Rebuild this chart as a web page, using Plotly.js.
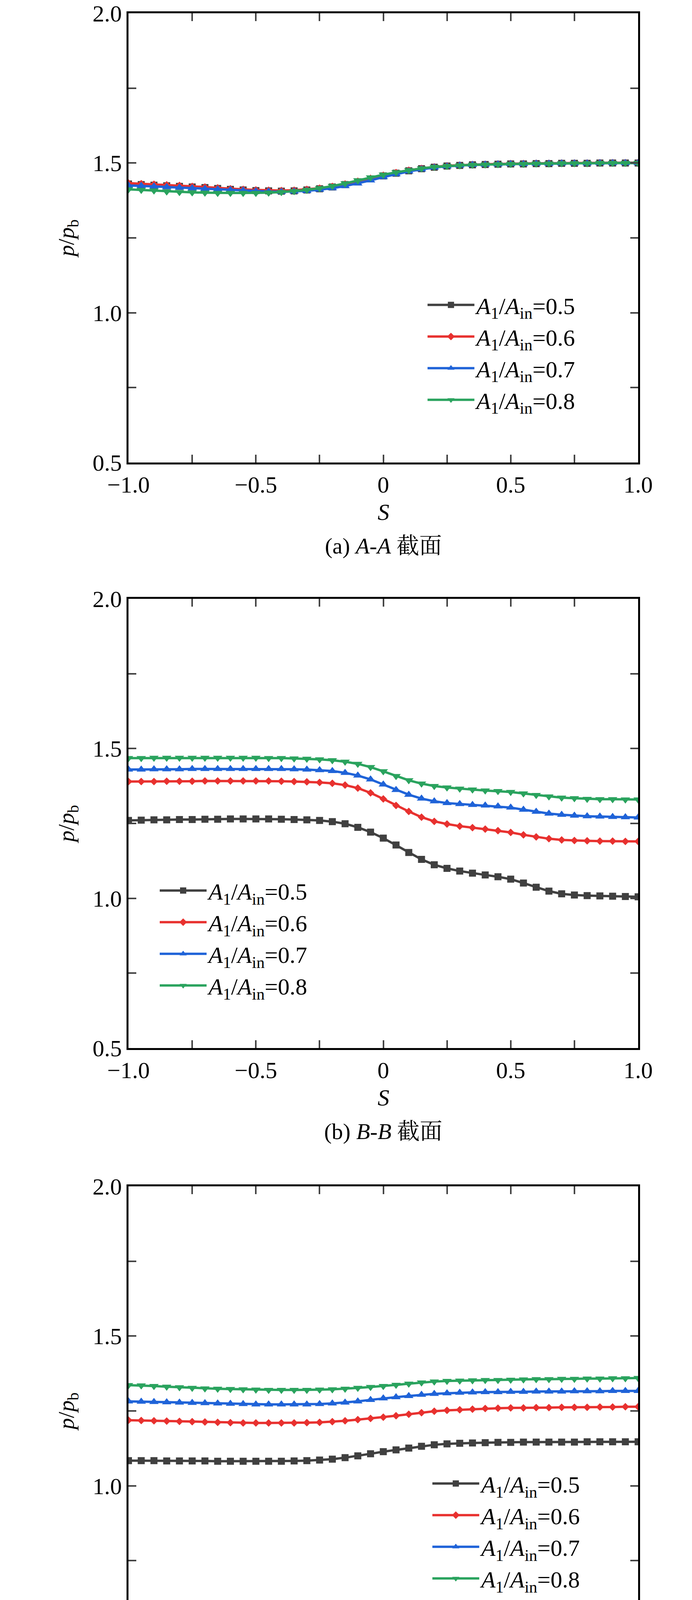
<!DOCTYPE html>
<html><head><meta charset="utf-8">
<script src="https://cdn.plot.ly/plotly-3.0.1.min.js"></script>
<style>body{margin:0;background:#fff}</style>
</head><body><div id="c" style="width:1772px;height:7423px"></div>
<script>
const S = [-1,-0.95,-0.9,-0.85,-0.8,-0.75,-0.7,-0.65,-0.6,-0.55,-0.5,-0.45,-0.4,-0.35,-0.3,-0.25,-0.2,-0.15,-0.1,-0.05,0,0.05,0.1,0.15,0.2,0.25,0.3,0.35,0.4,0.45,0.5,0.55,0.6,0.65,0.7,0.75,0.8,0.85,0.9,0.95,1];
const seriesNames = ['<i>A</i><sub>1</sub>/<i>A</i><sub>in</sub>=0.5','<i>A</i><sub>1</sub>/<i>A</i><sub>in</sub>=0.6','<i>A</i><sub>1</sub>/<i>A</i><sub>in</sub>=0.7','<i>A</i><sub>1</sub>/<i>A</i><sub>in</sub>=0.8'];
const captions = ['(a) <i>A</i>-<i>A</i> 截面','(b) <i>B</i>-<i>B</i> 截面','(c) <i>C</i>-<i>C</i> 截面','(d) <i>D</i>-<i>D</i> 截面','(e) <i>E</i>-<i>E</i> 截面'];

// Panel (a) A-A
const a05 = [1.430,1.428,1.426,1.424,1.422,1.420,1.418,1.415,1.412,1.410,1.408,1.407,1.406,1.407,1.410,1.414,1.420,1.428,1.437,1.447,1.457,1.466,1.474,1.481,1.486,1.490,1.492,1.494,1.495,1.496,1.497,1.497,1.498,1.498,1.499,1.499,1.499,1.500,1.500,1.500,1.500];
const a06 = [1.433,1.431,1.429,1.427,1.425,1.422,1.420,1.417,1.414,1.412,1.410,1.409,1.408,1.409,1.412,1.416,1.422,1.430,1.439,1.449,1.459,1.468,1.476,1.482,1.487,1.491,1.493,1.495,1.496,1.497,1.498,1.498,1.499,1.499,1.500,1.500,1.500,1.501,1.501,1.501,1.501];
const a07 = [1.425,1.424,1.422,1.420,1.418,1.416,1.414,1.412,1.410,1.408,1.406,1.405,1.404,1.405,1.407,1.411,1.416,1.423,1.432,1.442,1.453,1.463,1.472,1.479,1.485,1.489,1.492,1.494,1.495,1.496,1.497,1.497,1.498,1.498,1.499,1.499,1.499,1.500,1.500,1.500,1.500];
const a08 = [1.412,1.410,1.408,1.405,1.403,1.402,1.401,1.400,1.400,1.400,1.400,1.401,1.403,1.406,1.410,1.416,1.423,1.432,1.442,1.452,1.461,1.469,1.476,1.482,1.487,1.490,1.492,1.494,1.495,1.496,1.497,1.497,1.498,1.498,1.499,1.499,1.499,1.500,1.500,1.500,1.500];
// Panel (b) B-B
const b05 = [1.260,1.261,1.262,1.262,1.263,1.263,1.264,1.264,1.265,1.265,1.265,1.265,1.264,1.263,1.262,1.260,1.256,1.249,1.237,1.221,1.201,1.178,1.153,1.130,1.112,1.100,1.091,1.084,1.078,1.072,1.064,1.051,1.037,1.024,1.015,1.011,1.009,1.008,1.007,1.006,1.005];
const b06 = [1.390,1.390,1.390,1.391,1.391,1.391,1.392,1.392,1.392,1.392,1.392,1.392,1.391,1.390,1.389,1.387,1.384,1.378,1.368,1.352,1.332,1.310,1.290,1.271,1.257,1.248,1.241,1.236,1.231,1.226,1.220,1.212,1.205,1.199,1.195,1.193,1.192,1.191,1.191,1.190,1.190];
const b07 = [1.430,1.430,1.431,1.431,1.431,1.432,1.432,1.432,1.432,1.432,1.432,1.432,1.432,1.431,1.430,1.428,1.425,1.419,1.410,1.397,1.380,1.362,1.346,1.333,1.324,1.318,1.315,1.312,1.310,1.307,1.303,1.296,1.289,1.283,1.279,1.276,1.274,1.273,1.272,1.271,1.270];
const b08 = [1.468,1.468,1.469,1.469,1.469,1.469,1.469,1.469,1.469,1.469,1.469,1.468,1.468,1.467,1.466,1.464,1.461,1.456,1.449,1.438,1.424,1.408,1.394,1.383,1.375,1.370,1.366,1.363,1.360,1.358,1.355,1.350,1.345,1.340,1.336,1.334,1.332,1.331,1.331,1.330,1.330];
// Panel (c) C-C
const c05 = [1.084,1.084,1.084,1.083,1.083,1.083,1.083,1.082,1.082,1.082,1.082,1.082,1.082,1.083,1.084,1.086,1.089,1.094,1.100,1.107,1.114,1.120,1.126,1.132,1.137,1.140,1.142,1.143,1.144,1.145,1.145,1.146,1.146,1.146,1.146,1.146,1.147,1.147,1.147,1.147,1.147];
const c06 = [1.219,1.218,1.217,1.216,1.215,1.214,1.213,1.212,1.211,1.210,1.210,1.210,1.210,1.210,1.211,1.212,1.214,1.217,1.221,1.225,1.229,1.234,1.239,1.244,1.249,1.252,1.254,1.256,1.258,1.259,1.260,1.260,1.261,1.261,1.262,1.262,1.262,1.263,1.263,1.264,1.264];
const c07 = [1.282,1.281,1.280,1.279,1.278,1.277,1.276,1.275,1.274,1.273,1.272,1.272,1.272,1.272,1.272,1.273,1.275,1.278,1.282,1.287,1.292,1.296,1.300,1.304,1.307,1.309,1.311,1.312,1.313,1.313,1.314,1.314,1.315,1.315,1.315,1.316,1.316,1.316,1.317,1.317,1.317];
const c08 = [1.336,1.335,1.333,1.331,1.329,1.327,1.325,1.324,1.323,1.322,1.321,1.320,1.320,1.320,1.320,1.321,1.322,1.324,1.327,1.330,1.333,1.337,1.341,1.345,1.348,1.350,1.351,1.352,1.353,1.353,1.354,1.355,1.356,1.356,1.357,1.357,1.358,1.358,1.359,1.359,1.360];
// Panel (d) D-D
const d05 = [0.990,0.993,0.996,0.999,1.002,1.006,1.009,1.013,1.016,1.020,1.023,1.026,1.028,1.030,1.032,1.034,1.035,1.037,1.039,1.041,1.043,1.045,1.047,1.048,1.048,1.048,1.047,1.045,1.042,1.039,1.035,1.031,1.027,1.023,1.019,1.016,1.012,1.009,1.006,1.004,1.003];
const d06 = [0.988,0.992,0.995,0.999,1.002,1.006,1.010,1.014,1.017,1.021,1.024,1.027,1.030,1.032,1.034,1.036,1.037,1.039,1.041,1.043,1.045,1.047,1.049,1.050,1.050,1.050,1.048,1.046,1.043,1.040,1.036,1.032,1.028,1.024,1.020,1.016,1.012,1.009,1.006,1.004,1.003];
const d07 = [0.986,0.990,0.993,0.997,1.001,1.005,1.009,1.013,1.016,1.020,1.023,1.026,1.029,1.031,1.033,1.035,1.037,1.039,1.041,1.043,1.046,1.048,1.049,1.050,1.050,1.050,1.049,1.047,1.044,1.041,1.037,1.033,1.028,1.024,1.020,1.016,1.012,1.009,1.006,1.004,1.003];
const d08 = [0.980,0.983,0.986,0.990,0.994,0.998,1.002,1.006,1.010,1.014,1.018,1.021,1.024,1.027,1.029,1.032,1.034,1.036,1.039,1.042,1.045,1.047,1.049,1.050,1.050,1.049,1.048,1.046,1.043,1.040,1.036,1.032,1.028,1.024,1.020,1.016,1.012,1.009,1.006,1.004,1.003];
// Panel (e) E-E
const e05 = [1,1,1,1,1,1,1,1,1,1,1,1,1,1,1,1,1,1,1,1,1,1,1,1,1,1,1,1,1,1,1,1,1,1,1,1,1,1,1,1,1];
const e06 = e05.slice(), e07 = e05.slice(), e08 = e05.slice();

const panels = [[a05,a06,a07,a08],[b05,b06,b07,b08],[c05,c06,c07,c08],[d05,d06,d07,d08],[e05,e06,e07,e08]];
const colors = ['#404040','#e8312f','#1f63d8','#2aa35e'];
const symbols = ['square','diamond','triangle-up','triangle-down'];
const msize = [18,15,21,21];

const tops = [34,1533,3037,4542,6043];
const PH = 1150, H = 7423, W = 1772;
const xl = 329/W, xr = 1634/W;
const legPos = [[0.615,0.901],[0.228,0.699],[0.622,0.4945],[0.622,0.3803],[0.618,0.1762]];
const font = 'Liberation Serif, "Noto Serif CJK SC", "Noto Sans CJK SC", serif';

const data = [], layout = {width:W, height:H, margin:{l:0,r:0,t:0,b:0}, paper_bgcolor:'#fff', plot_bgcolor:'#fff', showlegend:true, font:{family:font,size:54,color:'#000'}, annotations:[]};
panels.forEach((p,i)=>{
  const k = i===0?'':(i+1);
  const legKey = i===0?'legend':'legend'+(i+1);
  p.forEach((ys,j)=>{
    data.push({x:S, y:ys, type:'scatter', mode:'lines+markers', name:seriesNames[j], xaxis:'x'+k, yaxis:'y'+k, legend:legKey,
      line:{color:colors[j], width:6}, marker:{symbol:symbols[j], size:msize[j], color:colors[j]}});
  });
  const y0 = 1-(tops[i]+PH)/H, y1 = 1-tops[i]/H;
  layout['xaxis'+k] = {domain:[xl,xr], anchor:'y'+k, range:[-1,1], tickvals:[-1,-0.5,0,0.5,1], ticktext:['\u22121.0','\u22120.5','0','0.5','1.0'],
    ticks:'inside', ticklen:20, tickwidth:4, mirror:'ticks', showline:true, linewidth:5, linecolor:'#000', showgrid:false, zeroline:false,
    minor:{ticks:'inside', dtick:0.25, tick0:0, ticklen:20, tickwidth:4}, tickfont:{size:60, family:font}, automargin:false};
  layout['yaxis'+k] = {domain:[y0,y1], anchor:'x'+k, range:[0.5,2], tickvals:[0.5,1,1.5,2], ticktext:['0.5','1.0','1.5','2.0'],
    ticks:'inside', ticklen:20, tickwidth:4, mirror:'ticks', showline:true, linewidth:5, linecolor:'#000', showgrid:false, zeroline:false,
    minor:{ticks:'inside', dtick:0.25, tick0:0, ticklen:20, tickwidth:4}, tickfont:{size:60, family:font}, automargin:false,
    title:{text:'<i>p</i>/<i>p</i><sub>b</sub>', font:{size:58, family:font}, standoff:30}};
  layout[legKey] = {x:legPos[i][0], y:legPos[i][1], xanchor:'left', yanchor:'top', bgcolor:'rgba(0,0,0,0)', font:{size:60, family:font}, itemwidth:120, tracegroupgap:0};
  const bot = tops[i]+PH;
  layout.annotations.push({text:'<i>S</i>', xref:'paper', yref:'paper', x:(xl+xr)/2, y:1-(bot+127)/H, showarrow:false, font:{size:60,family:font}, yanchor:'middle'});
  layout.annotations.push({text:captions[i], xref:'paper', yref:'paper', x:(xl+xr)/2, y:1-(bot+213)/H, showarrow:false, font:{size:58,family:font}, yanchor:'middle'});
});
Plotly.newPlot('c', data, layout, {staticPlot:true});
</script></body></html>
